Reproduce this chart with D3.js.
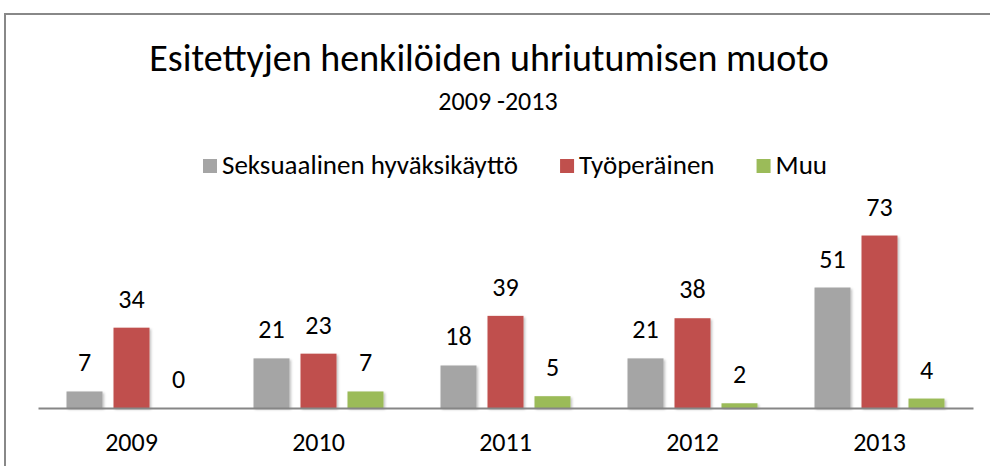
<!DOCTYPE html>
<html>
<head>
<meta charset="utf-8">
<style>
  body { margin: 0; background: #fff; }
  svg { display: block; }
</style>
</head>
<body>
<svg width="990" height="466"></svg>

<script src="https://d3js.org/d3.v7.min.js"></script>
<script>

	// Esitettyjen henkilöiden uhriutumisen muoto 2009-2013
	// grouped bar chart, three series per year

	const years = ["2009", "2010", "2011", "2012", "2013"]
	const seriesNames = ["Seksuaalinen hyväksikäyttö", "Työperäinen", "Muu"]
	const seksuaalinen = [7, 21, 18, 21, 51]
	const tyoperainen = [34, 23, 39, 38, 73]
	const muu = [0, 7, 5, 2, 4]
	const seriesColors = ["#a5a5a5", "#c0504d", "#9bbb59"]

	const seriesValues = [seksuaalinen, tyoperainen, muu]

	const font = "Carlito, Calibri, Lato, sans-serif"

	const svg = d3.select("svg")
		.attr("font-family", font)

	// chart frame
	svg.append("rect")
		.attr("x", 5)
		.attr("y", 14)
		.attr("width", 1000)
		.attr("height", 500)
		.attr("fill", "#fff")
		.attr("stroke", "#888")
		.attr("stroke-width", 2)

	// soft shadow under the bars
	const defs = svg.append("defs")
	defs.append("filter")
		.attr("id", "shadow")
		.attr("x", "-20%").attr("y", "-20%")
		.attr("width", "150%").attr("height", "150%")
		.append("feDropShadow")
			.attr("dx", 1.5)
			.attr("dy", 1.5)
			.attr("stdDeviation", 1.2)
			.attr("flood-color", "#000")
			.attr("flood-opacity", 0.25)

	// title
	svg.append("text")
		.attr("x", 489)
		.attr("y", 71)
		.attr("text-anchor", "middle")
		.attr("font-size", 38)
		.attr("fill", "#000")
		.text("Esitettyjen henkilöiden uhriutumisen muoto")

	svg.append("text")
		.attr("x", 498)
		.attr("y", 110)
		.attr("text-anchor", "middle")
		.attr("font-size", 26)
		.attr("fill", "#000")
		.text("2009 -2013")

	// scales
	const x0 = d3.scaleBand()
		.domain(years)
		.range([38, 973])
		.paddingInner(0.305)
		.paddingOuter(0.1525)

	const x1 = d3.scaleBand()
		.domain(seriesNames)
		.range([0, x0.bandwidth()])
		.paddingInner(0.234)
		.paddingOuter(0)

	const y = d3.scaleLinear()
		.domain([0, 80])
		.range([408, 219])

	const color = d3.scaleOrdinal(seriesNames, seriesColors)

	const rows = years.map((yr, i) => ({
		year: yr,
		values: seriesNames.map((s, j) => ({ key: s, value: seriesValues[j][i] }))
	}))

	// bars
	const group = svg.append("g")
		.selectAll("g")
		.data(rows)
		.join("g")
			.attr("transform", d => `translate(${x0(d.year)},0)`)

	group.selectAll("rect")
		.data(d => d.values)
		.join("rect")
			.attr("x", d => x1(d.key))
			.attr("y", d => y(d.value))
			.attr("width", x1.bandwidth())
			.attr("height", d => y(0) - y(d.value))
			.attr("fill", d => color(d.key))
			.attr("filter", "url(#shadow)")

	// value labels
	group.selectAll("text")
		.data(d => d.values)
		.join("text")
			.attr("x", d => x1(d.key) + x1.bandwidth() / 2)
			.attr("y", d => y(d.value) - 20)
			.attr("text-anchor", "middle")
			.attr("font-size", 26)
			.attr("fill", "#000")
			.text(d => d.value)

	// x axis
	const xAxis = svg.append("g")
		.attr("transform", `translate(0,${y(0)})`)
		.call(d3.axisBottom(x0).tickSize(0).tickPadding(25).tickSizeOuter(0))

	xAxis.select(".domain")
		.attr("stroke", "#868686")
		.attr("stroke-width", 2)

	xAxis.selectAll("text")
		.attr("font-family", font)
		.attr("font-size", 26)
		.attr("fill", "#000")

	// legend
	const legend = svg.append("g")
	let lx = 203
	seriesNames.forEach((name, i) => {
		legend.append("rect")
			.attr("x", lx)
			.attr("y", 159)
			.attr("width", 14)
			.attr("height", 14)
			.attr("fill", seriesColors[i])
		const t = legend.append("text")
			.attr("x", lx + 19)
			.attr("y", 174)
			.attr("font-size", 27)
			.attr("fill", "#000")
			.text(name)
		lx += 19 + t.node().getComputedTextLength() + 42
	})

</script>
</body>
</html>
